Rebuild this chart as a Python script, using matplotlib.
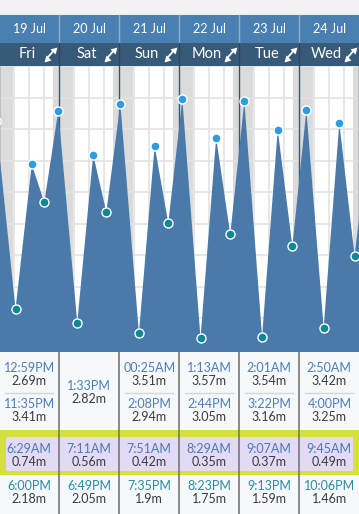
import numpy as np
import matplotlib.pyplot as plt
from matplotlib.patches import Rectangle

# tide table, one entry per day
dates = ['19 Jul', '20 Jul', '21 Jul', '22 Jul', '23 Jul', '24 Jul']
days = ['Fri', 'Sat', 'Sun', 'Mon', 'Tue', 'Wed']
high_times = [['12:59PM', '11:35PM'], ['1:33PM'], ['00:25AM', '2:08PM'],
              ['1:13AM', '2:44PM'], ['2:01AM', '3:22PM'], ['2:50AM', '4:00PM']]
high_heights = [[2.69, 3.41], [2.82], [3.51, 2.94],
                [3.57, 3.05], [3.54, 3.16], [3.42, 3.25]]
low_times = [['6:29AM', '6:00PM'], ['7:11AM', '6:49PM'], ['7:51AM', '7:35PM'],
             ['8:29AM', '8:23PM'], ['9:07AM', '9:13PM'], ['9:45AM', '10:06PM']]
low_heights = [[0.74, 2.18], [0.56, 2.05], [0.42, 1.9],
               [0.35, 1.75], [0.37, 1.59], [0.49, 1.46]]
# tides just outside the visible week (estimated)
prev_high = ('10:40PM', 3.28)
next_high = ('4:40AM', 3.30)
sunrise, sunset = 5.6, 21.5

FILL = '#4a7aa9'
HIGH_C = '#2f9be0'
LOW_C = '#0e8796'
FONT = 'Lato'


def to_hours(s):
    hh, mm = s[:-2].split(':')
    h = int(hh) % 12 + int(mm) / 60.0
    if s.endswith('PM'):
        h += 12
    return h


# build the chart series (hours from Fri 00:00)
hi_t, hi_h, lo_t, lo_h = [], [], [], []
for d in range(len(days)):
    for t, h in zip(high_times[d], high_heights[d]):
        hi_t.append(d * 24 + to_hours(t)); hi_h.append(h)
    for t, h in zip(low_times[d], low_heights[d]):
        lo_t.append(d * 24 + to_hours(t)); lo_h.append(h)
hi_t.insert(0, -24 + to_hours(prev_high[0])); hi_h.insert(0, prev_high[1])
hi_t.append(6 * 24 + to_hours(next_high[0])); hi_h.append(next_high[1])

all_t = np.array(hi_t + lo_t)
all_h = np.array(hi_h + lo_h)
order = np.argsort(all_t)
all_t, all_h = all_t[order], all_h[order]

W, H = 359, 514
fig = plt.figure(figsize=(W / 100, H / 100), dpi=100)

# background axes in pixel coordinates for header and table
bg = fig.add_axes([0, 0, 1, 1])
bg.set_xlim(0, W)
bg.set_ylim(H, 0)
bg.axis('off')

col_w = 60
x0 = -0.7

bg.add_patch(Rectangle((0, 0), W, 15, color='#f2f2f2', lw=0))
bg.add_patch(Rectangle((0, 15), W, 28, color='#4a7fb1', lw=0))
bg.add_patch(Rectangle((0, 43), W, 23, color='#375a79', lw=0))

for i in range(len(days)):
    cx = x0 + i * col_w
    if i > 0:
        bg.plot([cx, cx], [15, 43], color='#8db0d0', lw=1)
        bg.plot([cx, cx], [43, 66], color='#2a4660', lw=1)
    bg.text(cx + 30, 29, dates[i], ha='center', va='center', fontsize=9,
            color='white', family=FONT)
    bg.text(cx + 27.5, 54.5, days[i], ha='center', va='center', fontsize=10.5,
            color='white', family=FONT)
    # expand icon: diagonal line with a small head at each end
    bg.plot([cx + 48, cx + 54.5], [58, 50.5], color='white', lw=1.3,
            solid_capstyle='butt')
    bg.plot([cx + 55], [50], marker=(3, 0, -45), ms=6, color='white', mew=0)
    bg.plot([cx + 47.5], [58.5], marker=(3, 0, 135), ms=6, color='white',
            mew=0)

# table
bg.add_patch(Rectangle((0, 352), W, H - 352, color='#f5f9fc', lw=0))
bg.add_patch(Rectangle((0, 430), W, 45, color='#d5df3e', lw=0))
bg.add_patch(Rectangle((6, 437), 347, 34, color='#e2daf6', lw=0))

for i in range(len(days)):
    cx = x0 + i * col_w
    mid = cx + 30
    if len(high_times[i]) == 2:
        bg.plot([cx + 6, cx + 54], [393, 393], color='#d6d6d6', lw=1)
        rows = [368, 404]
    else:
        rows = [386]
    for y, t, h in zip(rows, high_times[i], high_heights[i]):
        bg.text(mid, y, t, ha='center', va='center', fontsize=9,
                color='#4f7db6', family=FONT)
        bg.text(mid, y + 13, '{:g}m'.format(h), ha='center', va='center',
                fontsize=9, color='#3b3b3b', family=FONT)
    for y, t, h, c in zip([449, 486], low_times[i], low_heights[i],
                          ['#4a7bb2', '#2f8aa2']):
        bg.text(mid, y, t, ha='center', va='center', fontsize=9,
                color=c, family=FONT)
        bg.text(mid, y + 13, '{:g}m'.format(h), ha='center', va='center',
                fontsize=9, color='#3b3b3b', family=FONT)
    if i > 0:
        bg.plot([cx, cx], [352, H], color='#777777', lw=1.2)

# tide chart
top, bottom = 66, 352
ax = fig.add_axes([0, (H - bottom) / H, 1, (bottom - top) / H])
y0, s = 364.3, 74.3
ax.set_xlim((0 + 0.7) / 2.5, (W + 0.7) / 2.5)
ax.set_ylim((y0 - bottom) / s, (y0 - top) / s)
ax.axis('off')

for d in range(-1, 7):
    ax.axvspan(d * 24 + sunset, (d + 1) * 24 + sunrise, color='#dbdbdb',
               lw=0, zorder=0)
for g in np.arange(0.196, 4.1, 0.424):
    ax.axhline(g, color='#e3e3e3', lw=1.2, zorder=1)
for v in range(0, 150, 6):
    if v % 24:
        ax.axvline(v, color='#e3e3e3', lw=1.2, zorder=1)
    else:
        ax.axvline(v, color='#3c5670', lw=1, zorder=1)

ax.fill_between(all_t, all_h, 0, color=FILL, lw=0, zorder=3)
ax.plot(lo_t, lo_h, 'o', color=LOW_C, ms=6.5, mec='white', mew=1,
        zorder=4, clip_on=True)
ax.plot(hi_t, hi_h, 'o', color=HIGH_C, ms=6.5, mec='white', mew=1,
        zorder=4, clip_on=True)

fig.savefig('out.png', dpi=100)
